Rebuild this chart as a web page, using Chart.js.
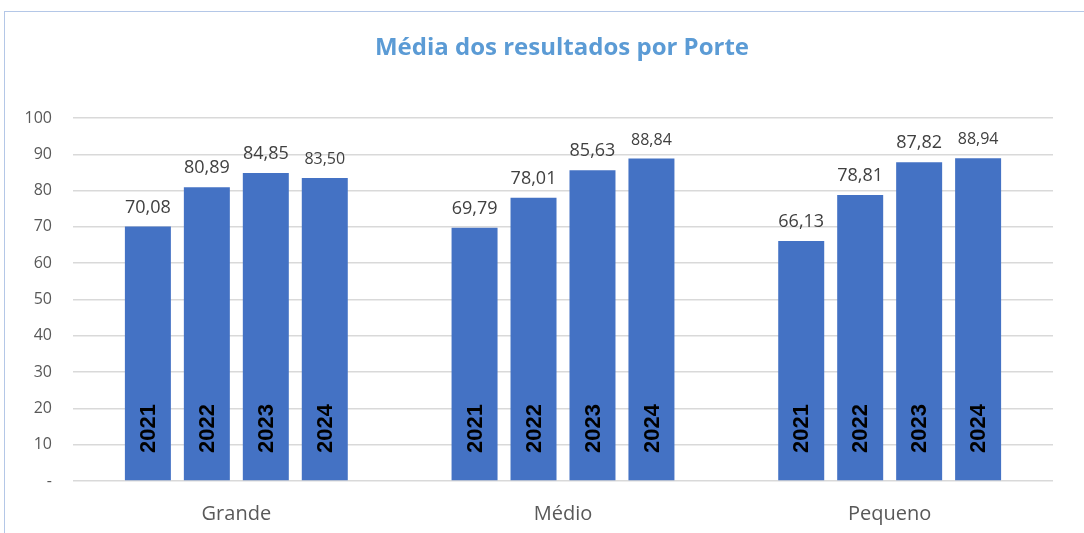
<!DOCTYPE html>
<html>
<head>
<meta charset="utf-8">
<script src="https://cdn.jsdelivr.net/npm/chart.js@4/dist/chart.umd.min.js"></script>
<style>
  html, body { margin: 0; padding: 0; background: #fff; overflow: hidden; }
  #frame { position: absolute; left: 4px; top: 11px; width: 1200px; height: 700px; border: 1px solid #B4C7E7; }
  #wrap { position: absolute; left: 0; top: 0; width: 1084px; height: 533px; }
</style>
</head>
<body>
<div id="frame"></div>
<div id="wrap"><canvas id="chart" width="1084" height="533"></canvas></div>
<script>
// dados do gráfico
const chartTitle = 'Média dos resultados por Porte';
const categories = ['Grande', 'Médio', 'Pequeno'];
const years = ['2021', '2022', '2023', '2024'];
const values2021 = [70.08, 69.79, 66.13];
const values2022 = [80.89, 78.01, 78.81];
const values2023 = [84.85, 85.63, 87.82];
const values2024 = [83.50, 88.84, 88.94];
const yMin = 0, yMax = 100, yStep = 10;

const seriesValues = [values2021, values2022, values2023, values2024];
const barColor = '#4472C4';

function fmt(v) {
  return v.toFixed(2).replace('.', ',');
}

// título centrado na moldura (que passa da borda direita da imagem)
const frameTitle = {
  id: 'frameTitle',
  afterDraw(chart) {
    const ctx = chart.ctx;
    ctx.save();
    ctx.fillStyle = '#5B9BD5';
    ctx.font = 'bold 24px "Open Sans", sans-serif';
    ctx.textAlign = 'center';
    ctx.textBaseline = 'middle';
    ctx.fillText(chartTitle, 562, 48);
    ctx.restore();
  }
};

// rótulos: valor acima da barra, ano na vertical dentro da barra
const barLabels = {
  id: 'barLabels',
  afterDatasetsDraw(chart) {
    const ctx = chart.ctx;
    const yScale = chart.scales.y;
    const base = yScale.getPixelForValue(0);
    chart.data.datasets.forEach((ds, i) => {
      const meta = chart.getDatasetMeta(i);
      meta.data.forEach((bar, j) => {
        ctx.save();
        ctx.fillStyle = '#404040';
        ctx.font = (i === 3 ? '16px' : '18px') + ' "Open Sans", sans-serif';
        ctx.textAlign = 'center';
        ctx.textBaseline = 'alphabetic';
        ctx.fillText(fmt(ds.data[j]), bar.x, bar.y - 14);
        ctx.restore();

        ctx.save();
        ctx.translate(bar.x + 1, base - 28);
        ctx.rotate(-Math.PI / 2);
        ctx.fillStyle = '#000';
        ctx.font = 'bold 22px "Liberation Sans", Arial, sans-serif';
        ctx.textAlign = 'left';
        ctx.textBaseline = 'middle';
        ctx.fillText(ds.label, 0, 0);
        ctx.restore();
      });
    });
  }
};

const datasets = years.map((y, i) => ({
  label: y,
  data: seriesValues[i],
  backgroundColor: barColor,
  borderWidth: 0,
  barPercentage: 0.78,
  categoryPercentage: 0.722
}));

new Chart(document.getElementById('chart').getContext('2d'), {
  type: 'bar',
  data: { labels: categories, datasets },
  options: {
    responsive: false,
    animation: false,
    layout: { padding: { left: 0, right: 31, top: 118, bottom: 0 } },
    plugins: {
      legend: { display: false },
      tooltip: { enabled: false },
      title: { display: false }
    },
    scales: {
      x: {
        grid: { display: false, drawTicks: false },
        border: { display: false },
        ticks: { color: '#595959', font: { family: '"Open Sans", sans-serif', size: 20 }, padding: 21 },
        afterFit(scale) { scale.height = 52; }
      },
      y: {
        min: yMin,
        max: yMax,
        grid: { color: '#D9D9D9', lineWidth: 1.5, drawTicks: false },
        border: { display: false },
        ticks: {
          stepSize: yStep,
          color: '#595959',
          font: { family: '"Open Sans", sans-serif', size: 16 },
          padding: 21,
          callback: v => v === 0 ? '-' : v
        },
        afterFit(scale) { scale.width = 73; }
      }
    }
  },
  plugins: [barLabels, frameTitle]
});
</script>
</body>
</html>
